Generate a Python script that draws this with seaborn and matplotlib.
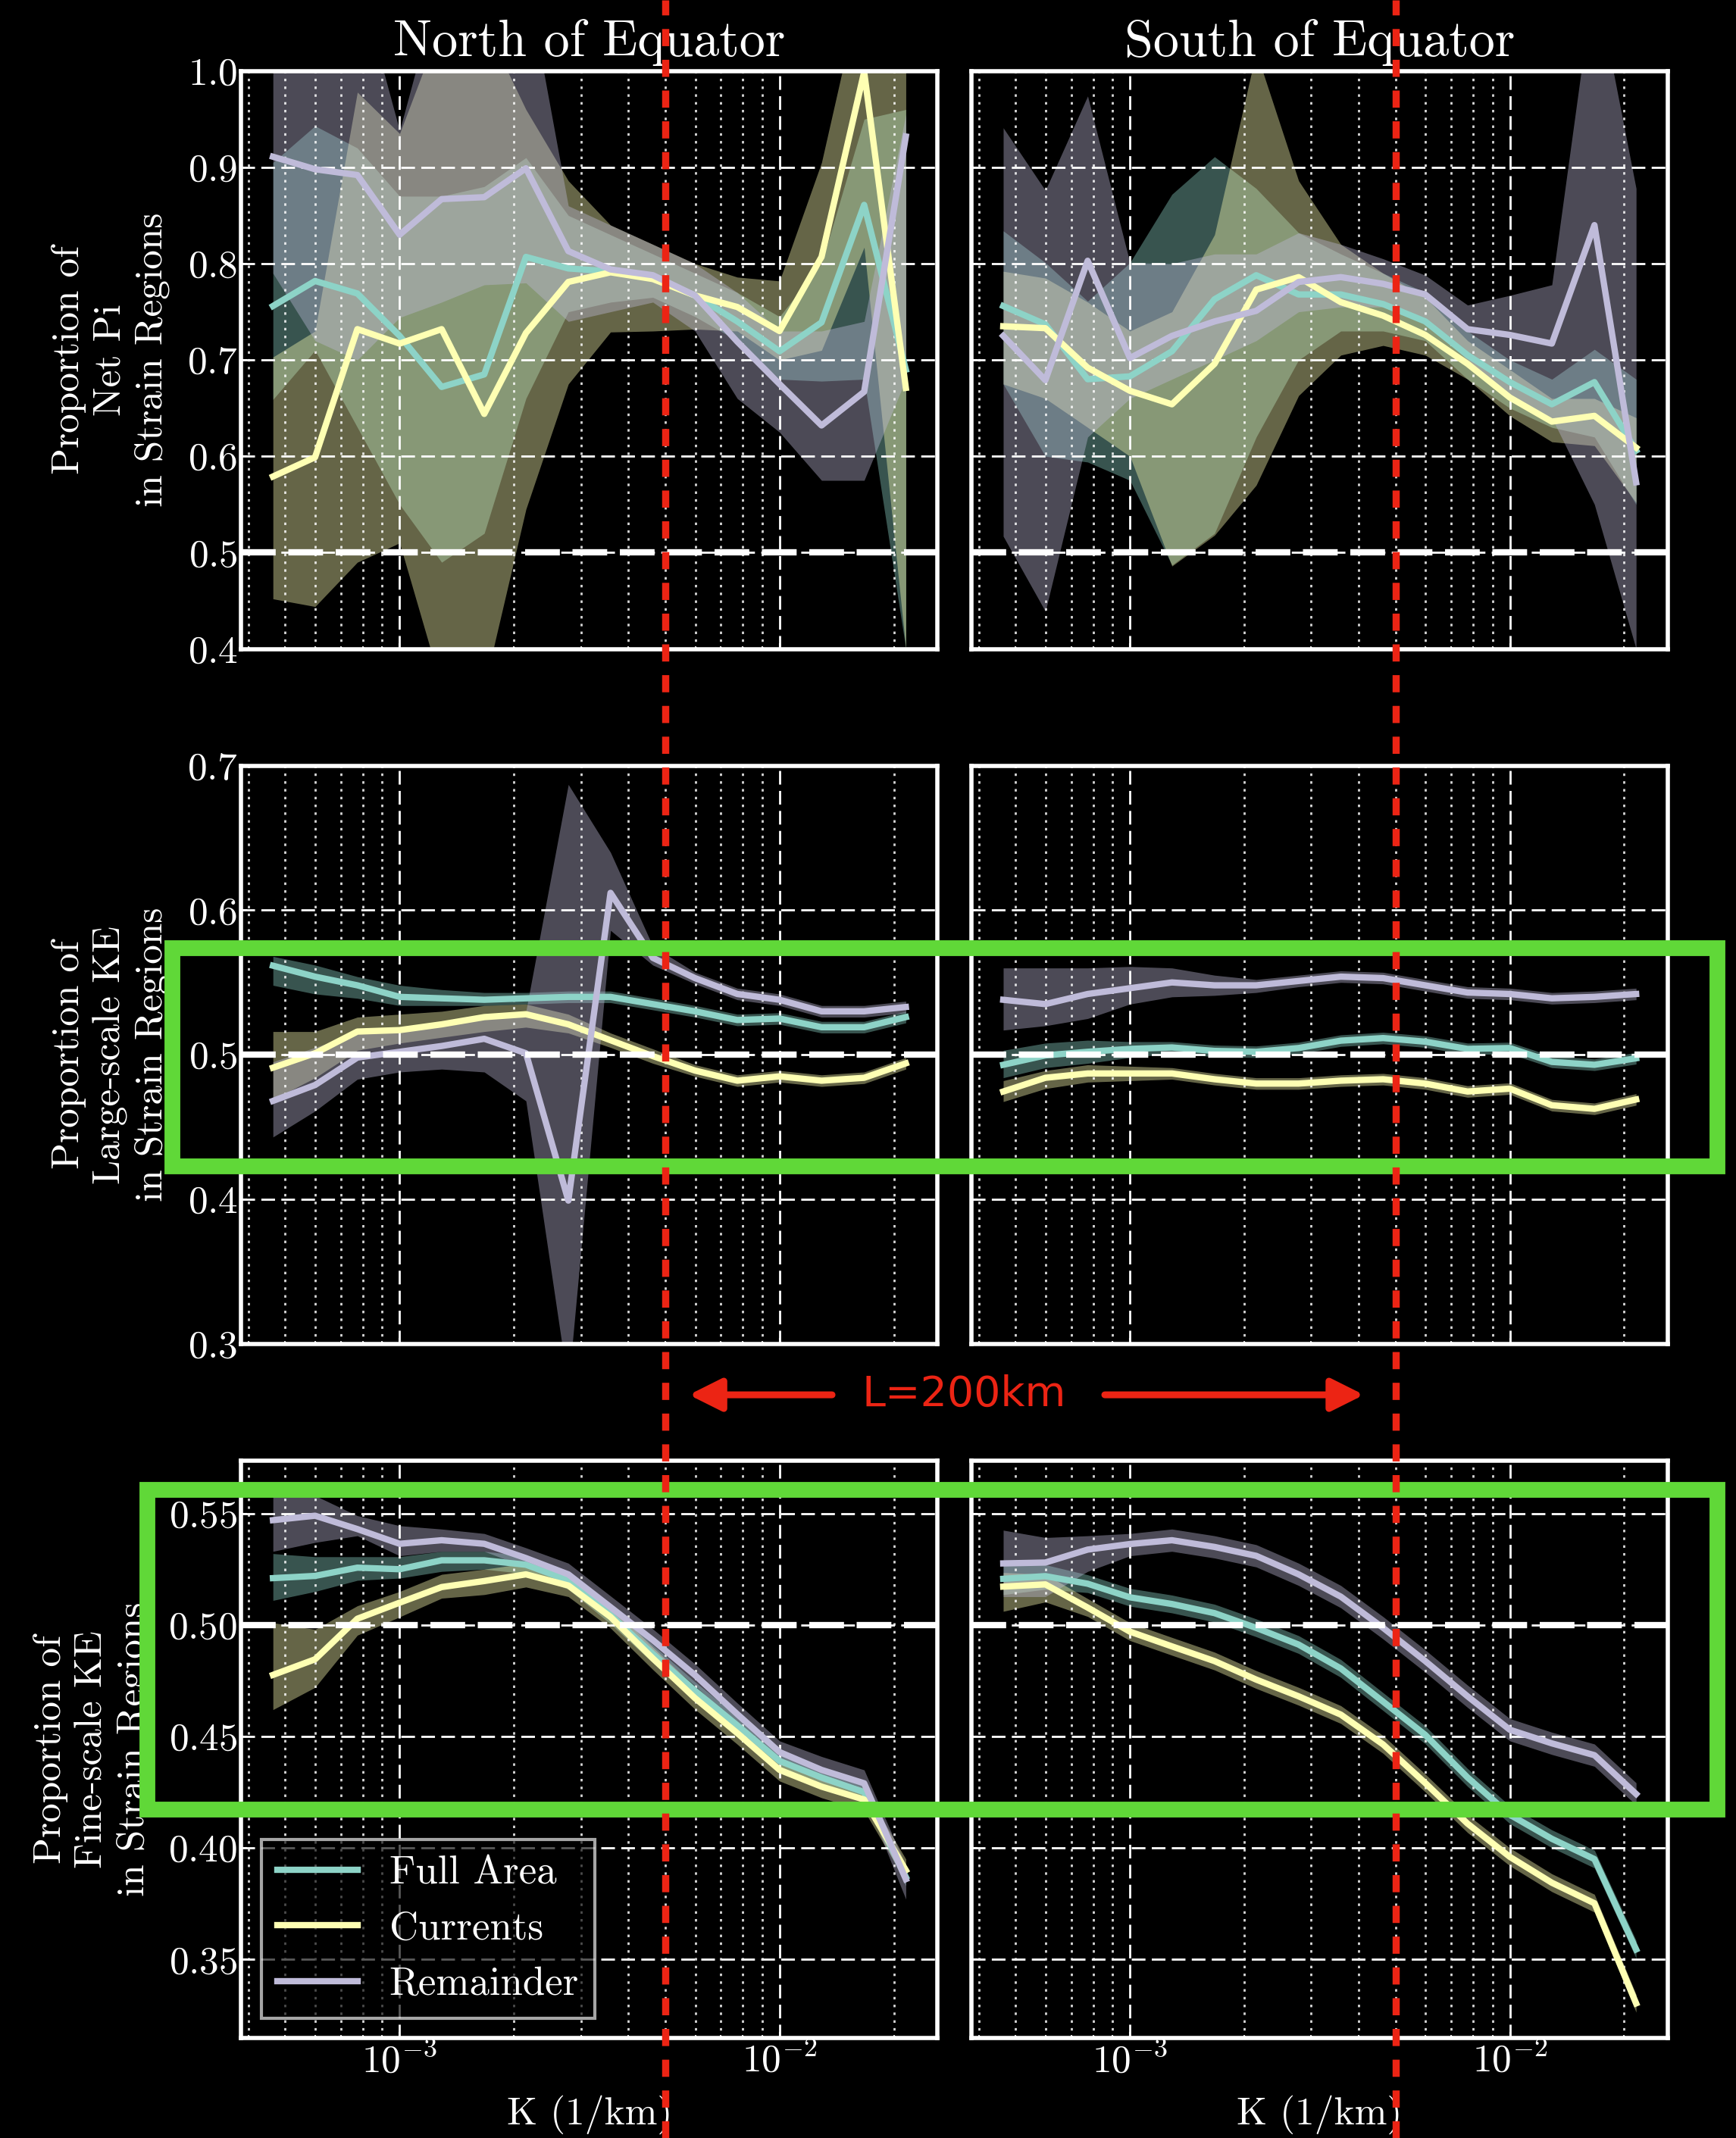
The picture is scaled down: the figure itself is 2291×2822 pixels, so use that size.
import matplotlib
matplotlib.use("Agg")
import matplotlib.pyplot as plt
import seaborn as sns
from matplotlib.lines import Line2D
from matplotlib.patches import Rectangle, FancyArrowPatch
from matplotlib.transforms import blended_transform_factory

# wavenumbers (1/km)
k = [4.64e-4, 5.99e-4, 7.74e-4, 1.0e-3, 1.29e-3, 1.67e-3, 2.15e-3, 2.78e-3,
     3.59e-3, 4.64e-3, 5.99e-3, 7.74e-3, 1.0e-2, 1.29e-2, 1.67e-2, 2.15e-2]

# ---- Net Pi, north ----
pi_n_full = [0.756, 0.782, 0.769, 0.725, 0.672, 0.685, 0.807, 0.795, 0.792, 0.785, 0.767, 0.740, 0.709, 0.739, 0.861, 0.690]
pi_n_full_lo = [0.659, 0.710, 0.630, 0.550, 0.490, 0.520, 0.660, 0.750, 0.760, 0.765, 0.745, 0.720, 0.680, 0.678, 0.680, 0.400]
pi_n_full_hi = [0.905, 0.943, 0.920, 0.870, 0.870, 0.880, 0.910, 0.850, 0.830, 0.810, 0.790, 0.770, 0.745, 0.800, 0.950, 0.960]
pi_n_cur = [0.579, 0.599, 0.732, 0.717, 0.732, 0.644, 0.728, 0.781, 0.791, 0.784, 0.767, 0.755, 0.730, 0.807, 0.999, 0.671]
pi_n_cur_lo = [0.452, 0.444, 0.490, 0.510, 0.360, 0.360, 0.545, 0.675, 0.729, 0.730, 0.732, 0.730, 0.700, 0.710, 0.817, 0.400]
pi_n_cur_hi = [0.703, 0.730, 0.978, 0.935, 1.050, 1.050, 0.960, 0.886, 0.840, 0.820, 0.800, 0.786, 0.782, 0.905, 1.100, 1.050]
pi_n_rem = [0.911, 0.898, 0.892, 0.830, 0.867, 0.869, 0.899, 0.813, 0.794, 0.788, 0.767, 0.719, 0.675, 0.632, 0.667, 0.932]
pi_n_rem_lo = [0.790, 0.720, 0.700, 0.744, 0.760, 0.778, 0.780, 0.740, 0.750, 0.760, 0.730, 0.660, 0.625, 0.575, 0.575, 0.680]
pi_n_rem_hi = [1.100, 1.100, 1.100, 0.938, 1.100, 1.100, 1.100, 0.860, 0.840, 0.820, 0.800, 0.770, 0.730, 0.730, 0.740, 0.955]

# ---- Net Pi, south ----
pi_s_full = [0.756, 0.737, 0.680, 0.683, 0.709, 0.763, 0.788, 0.768, 0.768, 0.758, 0.740, 0.705, 0.677, 0.654, 0.677, 0.606]
pi_s_full_lo = [0.675, 0.600, 0.594, 0.575, 0.487, 0.520, 0.620, 0.700, 0.730, 0.730, 0.720, 0.680, 0.650, 0.630, 0.620, 0.550]
pi_s_full_hi = [0.834, 0.801, 0.761, 0.801, 0.872, 0.911, 0.878, 0.832, 0.810, 0.790, 0.770, 0.730, 0.700, 0.680, 0.711, 0.680]
pi_s_cur = [0.735, 0.733, 0.692, 0.668, 0.654, 0.696, 0.773, 0.786, 0.760, 0.746, 0.726, 0.696, 0.661, 0.636, 0.642, 0.609]
pi_s_cur_lo = [0.675, 0.660, 0.630, 0.600, 0.486, 0.518, 0.570, 0.663, 0.705, 0.715, 0.705, 0.680, 0.642, 0.615, 0.611, 0.552]
pi_s_cur_hi = [0.792, 0.785, 0.760, 0.730, 0.750, 0.830, 1.020, 0.886, 0.820, 0.790, 0.765, 0.720, 0.690, 0.660, 0.660, 0.640]
pi_s_rem = [0.725, 0.679, 0.803, 0.702, 0.725, 0.740, 0.751, 0.781, 0.786, 0.779, 0.768, 0.732, 0.726, 0.717, 0.840, 0.573]
pi_s_rem_lo = [0.517, 0.439, 0.620, 0.660, 0.680, 0.700, 0.720, 0.750, 0.755, 0.755, 0.740, 0.700, 0.660, 0.640, 0.550, 0.400]
pi_s_rem_hi = [0.941, 0.876, 0.974, 0.801, 0.800, 0.810, 0.810, 0.832, 0.820, 0.805, 0.788, 0.757, 0.767, 0.778, 1.100, 0.878]

# ---- Large-scale KE, north ----
ls_n_full = [0.5616, 0.554, 0.548, 0.540, 0.539, 0.538, 0.539, 0.540, 0.540, 0.535, 0.530, 0.524, 0.525, 0.519, 0.519, 0.526]
ls_n_full_lo = [0.548, 0.542, 0.539, 0.534, 0.534, 0.534, 0.535, 0.536, 0.536, 0.531, 0.526, 0.520, 0.521, 0.515, 0.515, 0.522]
ls_n_full_hi = [0.568, 0.562, 0.554, 0.548, 0.545, 0.543, 0.543, 0.544, 0.544, 0.539, 0.534, 0.528, 0.529, 0.523, 0.523, 0.530]
ls_n_cur = [0.491, 0.501, 0.516, 0.517, 0.521, 0.526, 0.528, 0.521, 0.510, 0.499, 0.489, 0.482, 0.485, 0.482, 0.484, 0.494]
ls_n_cur_lo = [0.469, 0.484, 0.503, 0.508, 0.512, 0.516, 0.519, 0.515, 0.505, 0.494, 0.485, 0.478, 0.481, 0.478, 0.480, 0.490]
ls_n_cur_hi = [0.516, 0.516, 0.526, 0.528, 0.530, 0.534, 0.535, 0.528, 0.515, 0.504, 0.493, 0.486, 0.489, 0.486, 0.488, 0.498]
ls_n_rem = [0.468, 0.479, 0.498, 0.502, 0.506, 0.511, 0.501, 0.399, 0.612, 0.567, 0.553, 0.542, 0.538, 0.530, 0.530, 0.533]
ls_n_rem_lo = [0.443, 0.461, 0.483, 0.488, 0.490, 0.488, 0.468, 0.270, 0.586, 0.562, 0.549, 0.538, 0.534, 0.526, 0.526, 0.529]
ls_n_rem_hi = [0.495, 0.505, 0.515, 0.518, 0.522, 0.526, 0.530, 0.687, 0.640, 0.575, 0.557, 0.546, 0.542, 0.534, 0.534, 0.537]

# ---- Large-scale KE, south ----
ls_s_full = [0.493, 0.4995, 0.502, 0.504, 0.505, 0.5026, 0.502, 0.5046, 0.5097, 0.5115, 0.509, 0.504, 0.5046, 0.495, 0.493, 0.4975]
ls_s_full_lo = [0.484, 0.491, 0.494, 0.498, 0.501, 0.4986, 0.498, 0.5006, 0.5057, 0.5075, 0.505, 0.500, 0.5006, 0.491, 0.489, 0.4935]
ls_s_full_hi = [0.503, 0.508, 0.510, 0.509, 0.509, 0.5066, 0.506, 0.5086, 0.5137, 0.5155, 0.513, 0.508, 0.5086, 0.499, 0.497, 0.5015]
ls_s_cur = [0.4745, 0.484, 0.487, 0.487, 0.487, 0.483, 0.480, 0.480, 0.482, 0.483, 0.480, 0.4745, 0.4765, 0.465, 0.4625, 0.469]
ls_s_cur_lo = [0.4675, 0.4765, 0.481, 0.482, 0.483, 0.479, 0.476, 0.476, 0.478, 0.479, 0.476, 0.4705, 0.4725, 0.461, 0.4585, 0.465]
ls_s_cur_hi = [0.482, 0.489, 0.493, 0.492, 0.491, 0.487, 0.484, 0.484, 0.486, 0.487, 0.484, 0.4785, 0.4805, 0.469, 0.4665, 0.473]
ls_s_rem = [0.538, 0.535, 0.542, 0.546, 0.550, 0.548, 0.548, 0.551, 0.554, 0.553, 0.548, 0.543, 0.542, 0.539, 0.540, 0.542]
ls_s_rem_lo = [0.517, 0.520, 0.525, 0.535, 0.540, 0.541, 0.543, 0.547, 0.550, 0.549, 0.544, 0.539, 0.538, 0.535, 0.536, 0.538]
ls_s_rem_hi = [0.560, 0.560, 0.560, 0.561, 0.560, 0.555, 0.552, 0.555, 0.558, 0.557, 0.552, 0.547, 0.546, 0.543, 0.544, 0.546]

# ---- Fine-scale KE, north ----
fs_n_full = [0.521, 0.522, 0.5257, 0.525, 0.529, 0.529, 0.527, 0.520, 0.5045, 0.487, 0.4705, 0.455, 0.439, 0.4316, 0.425, 0.387]
fs_n_full_lo = [0.511, 0.515, 0.520, 0.521, 0.524, 0.525, 0.523, 0.516, 0.5005, 0.483, 0.4665, 0.451, 0.435, 0.4276, 0.421, 0.383]
fs_n_full_hi = [0.532, 0.5306, 0.5306, 0.5306, 0.533, 0.533, 0.531, 0.524, 0.5085, 0.491, 0.4745, 0.459, 0.443, 0.4356, 0.429, 0.391]
fs_n_cur = [0.4776, 0.4846, 0.5028, 0.510, 0.517, 0.5197, 0.5227, 0.5177, 0.5036, 0.485, 0.4672, 0.4515, 0.435, 0.4275, 0.4217, 0.390]
fs_n_cur_lo = [0.462, 0.472, 0.4954, 0.5036, 0.512, 0.5136, 0.517, 0.5127, 0.4986, 0.480, 0.4622, 0.4465, 0.430, 0.4225, 0.4167, 0.385]
fs_n_cur_hi = [0.501, 0.498, 0.5086, 0.515, 0.5227, 0.525, 0.5276, 0.5227, 0.5086, 0.490, 0.4722, 0.4565, 0.440, 0.4325, 0.4267, 0.395]
fs_n_rem = [0.547, 0.549, 0.543, 0.5364, 0.538, 0.5364, 0.530, 0.5227, 0.508, 0.4932, 0.4775, 0.460, 0.443, 0.435, 0.429, 0.386]
fs_n_rem_lo = [0.533, 0.537, 0.540, 0.531, 0.533, 0.533, 0.526, 0.5187, 0.503, 0.4885, 0.4728, 0.4553, 0.4385, 0.430, 0.424, 0.377]
fs_n_rem_hi = [0.558, 0.558, 0.549, 0.5445, 0.543, 0.541, 0.5346, 0.5277, 0.513, 0.4982, 0.4825, 0.465, 0.448, 0.441, 0.435, 0.392]

# ---- Fine-scale KE, south ----
fs_s_full = [0.5207, 0.5219, 0.5185, 0.5124, 0.5094, 0.5053, 0.4987, 0.4912, 0.4805, 0.4656, 0.4507, 0.4316, 0.4149, 0.4041, 0.395, 0.3545]
fs_s_full_lo = [0.5136, 0.516, 0.5145, 0.5084, 0.5054, 0.5013, 0.4947, 0.4872, 0.4765, 0.4616, 0.4467, 0.4276, 0.4109, 0.4001, 0.391, 0.3505]
fs_s_full_hi = [0.527, 0.527, 0.5225, 0.5164, 0.5134, 0.5093, 0.5027, 0.4952, 0.4845, 0.4696, 0.4547, 0.4356, 0.4189, 0.4081, 0.399, 0.3585]
fs_s_cur = [0.5172, 0.5182, 0.5078, 0.497, 0.4904, 0.4838, 0.4755, 0.468, 0.4598, 0.4464, 0.4291, 0.4109, 0.396, 0.3844, 0.3752, 0.3303]
fs_s_cur_lo = [0.5061, 0.5103, 0.5038, 0.493, 0.4864, 0.4798, 0.4715, 0.464, 0.4558, 0.4424, 0.4251, 0.4069, 0.392, 0.3804, 0.3712, 0.3263]
fs_s_cur_hi = [0.5235, 0.5227, 0.5118, 0.501, 0.4944, 0.4878, 0.4795, 0.472, 0.4638, 0.4504, 0.4331, 0.4149, 0.400, 0.3884, 0.3792, 0.3343]
fs_s_rem = [0.5276, 0.528, 0.5338, 0.5363, 0.538, 0.535, 0.531, 0.5227, 0.5127, 0.4987, 0.4838, 0.468, 0.453, 0.4469, 0.4416, 0.4242]
fs_s_rem_lo = [0.5127, 0.5127, 0.524, 0.531, 0.533, 0.530, 0.526, 0.5177, 0.5077, 0.4937, 0.4788, 0.463, 0.448, 0.4419, 0.4366, 0.4192]
fs_s_rem_hi = [0.5425, 0.5392, 0.540, 0.541, 0.543, 0.540, 0.536, 0.5277, 0.5177, 0.5037, 0.4888, 0.473, 0.458, 0.4519, 0.4466, 0.4292]

series_names = ["Full Area", "Currents", "Remainder"]
series_colors = ["#8dd3c7", "#feffb3", "#bfbbd9"]
col_titles = ["North of Equator", "South of Equator"]
row_ylabels = ["Proportion of\nNet Pi\nin Strain Regions",
               "Proportion of\nLarge-scale KE\nin Strain Regions",
               "Proportion of\nFine-scale KE\nin Strain Regions"]
row_yticks = [[0.4, 0.5, 0.6, 0.7, 0.8, 0.9, 1.0],
              [0.3, 0.4, 0.5, 0.6, 0.7],
              [0.35, 0.40, 0.45, 0.50, 0.55]]
row_ylims = [(0.4, 1.0), (0.3, 0.7), (0.3146, 0.5738)]
k_cut = 0.005  # 1/(200 km)

red = "#ec2414"
green = "#60d838"

panels = {
    (0, 0): [(pi_n_full, pi_n_full_lo, pi_n_full_hi), (pi_n_cur, pi_n_cur_lo, pi_n_cur_hi), (pi_n_rem, pi_n_rem_lo, pi_n_rem_hi)],
    (0, 1): [(pi_s_full, pi_s_full_lo, pi_s_full_hi), (pi_s_cur, pi_s_cur_lo, pi_s_cur_hi), (pi_s_rem, pi_s_rem_lo, pi_s_rem_hi)],
    (1, 0): [(ls_n_full, ls_n_full_lo, ls_n_full_hi), (ls_n_cur, ls_n_cur_lo, ls_n_cur_hi), (ls_n_rem, ls_n_rem_lo, ls_n_rem_hi)],
    (1, 1): [(ls_s_full, ls_s_full_lo, ls_s_full_hi), (ls_s_cur, ls_s_cur_lo, ls_s_cur_hi), (ls_s_rem, ls_s_rem_lo, ls_s_rem_hi)],
    (2, 0): [(fs_n_full, fs_n_full_lo, fs_n_full_hi), (fs_n_cur, fs_n_cur_lo, fs_n_cur_hi), (fs_n_rem, fs_n_rem_lo, fs_n_rem_hi)],
    (2, 1): [(fs_s_full, fs_s_full_lo, fs_s_full_hi), (fs_s_cur, fs_s_cur_lo, fs_s_cur_hi), (fs_s_rem, fs_s_rem_lo, fs_s_rem_hi)],
}

# style
plt.style.use("dark_background")
plt.rcParams["font.family"] = "cmr10"
plt.rcParams["mathtext.fontset"] = "cm"
plt.rcParams["axes.formatter.use_mathtext"] = True
plt.rcParams["font.size"] = 37

fig, axes = plt.subplots(3, 2, figsize=(22.91, 28.22), dpi=100, sharex=True, sharey="row")
fig.subplots_adjust(left=0.139, right=0.9607, bottom=0.0466, top=0.9668, wspace=0.049, hspace=0.202)

for (r, c), series in panels.items():
    ax = axes[r, c]
    ax.set_xscale("log")
    for (mean, lo, hi), col in zip(series, series_colors):
        ax.fill_between(k, lo, hi, color=col, alpha=0.4, lw=0)
    for (mean, lo, hi), col in zip(series, series_colors):
        sns.lineplot(x=k, y=mean, color=col, linewidth=6, ax=ax)
    ax.axhline(0.5, color="white", lw=6, ls=(0, (5.5, 2)), zorder=3)

    ax.grid(True, which="major", color="white", ls=(0, (6.5, 3)), lw=2)
    ax.grid(True, which="minor", axis="x", color="white", ls=(0, (1.2, 2.5)), lw=2, alpha=0.85)
    ax.set_yticks(row_yticks[r])
    ax.set_ylim(*row_ylims[r])
    ax.tick_params(which="both", direction="in", labelsize=37)
    ax.tick_params(which="major", length=6, width=1.5)
    ax.tick_params(which="minor", length=3, width=1.2)
    for s in ax.spines.values():
        s.set_linewidth(4)
        s.set_color("white")
    ax.set_xlabel("")
    ax.set_ylabel("")

for c in range(2):
    axes[0, c].set_title(col_titles[c], fontsize=49, pad=14)
    axes[2, c].set_xlabel("K (1/km)", fontsize=37, labelpad=14)
for r in range(3):
    axes[r, 0].set_ylabel(row_ylabels[r], fontsize=37, labelpad=16, linespacing=1.25)

handles = [Line2D([], [], color=col, lw=6) for col in series_colors]
leg = axes[2, 0].legend(handles, series_names, loc="lower left", fontsize=38,
                        fancybox=False, framealpha=0.65, edgecolor="white", facecolor="black")
leg.get_frame().set_linewidth(3)

# L = 200 km markers spanning the whole figure
for c in range(2):
    trans = blended_transform_factory(axes[2, c].transData, fig.transFigure)
    fig.add_artist(Line2D([k_cut, k_cut], [0, 1], transform=trans, color=red,
                          lw=6.8, ls=(0, (2.4, 1.9)), zorder=10))

# highlight boxes
fig.add_artist(Rectangle((0.0991, 0.4546), 0.89, 0.1021, transform=fig.transFigure,
                         fill=False, edgecolor=green, lw=15, zorder=9))
fig.add_artist(Rectangle((0.0847, 0.1538), 0.9044, 0.1495, transform=fig.transFigure,
                         fill=False, edgecolor=green, lw=15, zorder=9))

# scale annotation
fig.text(0.5553, 0.3476, "L=200km", color=red, fontsize=40, family="DejaVu Sans",
         ha="center", va="center")
fig.add_artist(FancyArrowPatch((0.4793, 0.3476), (0.3968, 0.3476), transform=fig.transFigure,
                               arrowstyle="-|>", mutation_scale=65, lw=6.5, color=red,
                               shrinkA=0, shrinkB=0, zorder=10))
fig.add_artist(FancyArrowPatch((0.6364, 0.3476), (0.7857, 0.3476), transform=fig.transFigure,
                               arrowstyle="-|>", mutation_scale=65, lw=6.5, color=red,
                               shrinkA=0, shrinkB=0, zorder=10))

fig.savefig("out.png", dpi=100, facecolor="black")
